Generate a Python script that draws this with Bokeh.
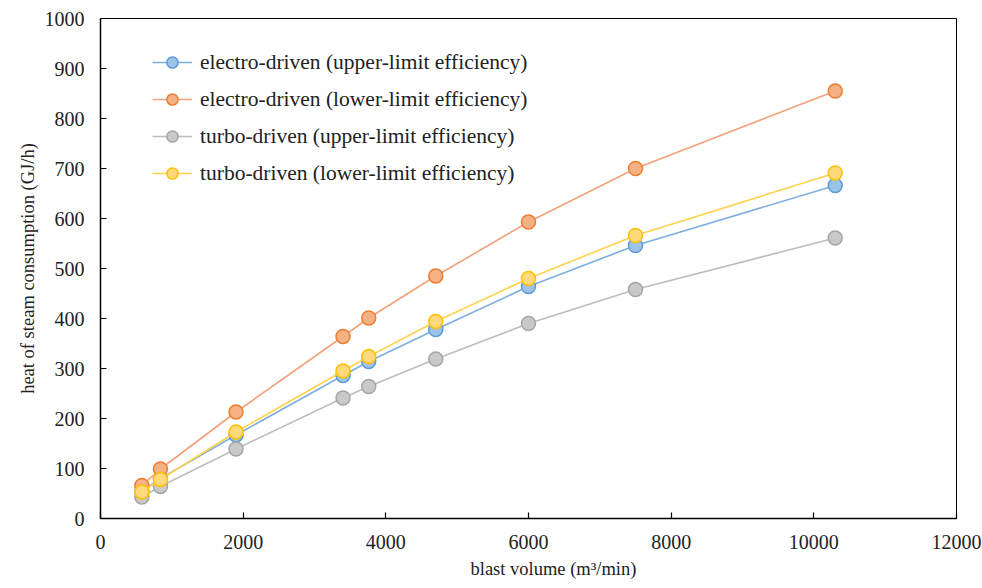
from bokeh.plotting import figure
from bokeh.models import Range1d, Legend, LegendItem, FixedTicker, Title
from bokeh.embed import file_html
from bokeh.resources import INLINE

blast_volume = [580, 840, 1900, 3400, 3760, 4700, 6000, 7500, 10300]
electro_upper = [54, 80, 167, 286, 314, 378, 464, 546, 666]
electro_lower = [66, 99, 213, 364, 401, 485, 593, 700, 855]
turbo_upper = [43, 64, 139, 241, 264, 319, 390, 458, 561]
turbo_lower = [53, 78, 173, 295, 324, 394, 480, 566, 691]

series = [
    ("electro-driven (upper-limit efficiency)", electro_upper, "#7EAEE0", "#9DC3E6", "#5B9BD5"),
    ("electro-driven (lower-limit efficiency)", electro_lower, "#F2A27A", "#F4B183", "#ED7D31"),
    ("turbo-driven (upper-limit efficiency)", turbo_upper, "#BDBDBD", "#C9C9C9", "#A5A5A5"),
    ("turbo-driven (lower-limit efficiency)", turbo_lower, "#FFD34D", "#FFD97A", "#FFC000"),
]

FONT = "Liberation Serif, Times New Roman, serif"

p = figure(width=982, height=588, output_backend="svg", toolbar_location=None,
           x_range=Range1d(0, 12000), y_range=Range1d(0, 1000))
p.min_border_left = 100
p.min_border_right = 26
p.min_border_top = 18
p.min_border_bottom = 70
p.background_fill_color = "white"
p.border_fill_color = "white"
p.outline_line_color = "#000000"
p.outline_line_width = 1
p.xgrid.visible = False
p.ygrid.visible = False

p.xaxis.ticker = FixedTicker(ticks=[0, 2000, 4000, 6000, 8000, 10000, 12000])
p.yaxis.ticker = FixedTicker(ticks=list(range(0, 1001, 100)))
for ax in (p.xaxis[0], p.yaxis[0]):
    ax.axis_line_color = "black"
    ax.axis_line_width = 1.5
    ax.major_tick_in = 6
    ax.major_tick_out = 0
    ax.major_tick_line_color = "black"
    ax.major_tick_line_width = 1.2
    ax.minor_tick_line_color = None
    ax.major_label_text_font = FONT
    ax.major_label_text_font_size = "20px"
    ax.major_label_text_color = "#222222"
    ax.axis_label_text_font = FONT
    ax.axis_label_text_font_size = "18.5px"
    ax.axis_label_text_font_style = "normal"
    ax.axis_label_text_color = "#222222"
p.yaxis.axis_label = "heat of steam consumption (GJ/h)"
p.xaxis.major_label_standoff = 16
p.yaxis.major_label_standoff = 16
p.yaxis.axis_label_standoff = 4

x_title = Title(text="blast volume (m³/min)", align="left", offset=370,
                text_font=FONT, text_font_size="18.5px", text_font_style="normal",
                text_color="#222222", standoff=10)
p.add_layout(x_title, "below")

items = []
for name, ys, lc, fc, oc in series:
    r1 = p.line(blast_volume, ys, line_color=lc, line_width=1.6)
    r2 = p.scatter(blast_volume, ys, marker="circle", size=14, fill_color=fc,
                   line_color=oc, line_width=1.5)
    items.append(LegendItem(label=name, renderers=[r1, r2]))

legend = Legend(items=items, location=(52, 331))
legend.label_text_font = FONT
legend.label_text_font_size = "21.5px"
legend.label_text_color = "#222222"
legend.glyph_width = 40
legend.glyph_height = 28
legend.label_height = 28
legend.spacing = 9
legend.padding = 0
legend.margin = 0
legend.label_standoff = 8
legend.border_line_color = None
legend.background_fill_alpha = 0
p.add_layout(legend, "center")

open("out.html", "w").write(file_html(p, INLINE))
